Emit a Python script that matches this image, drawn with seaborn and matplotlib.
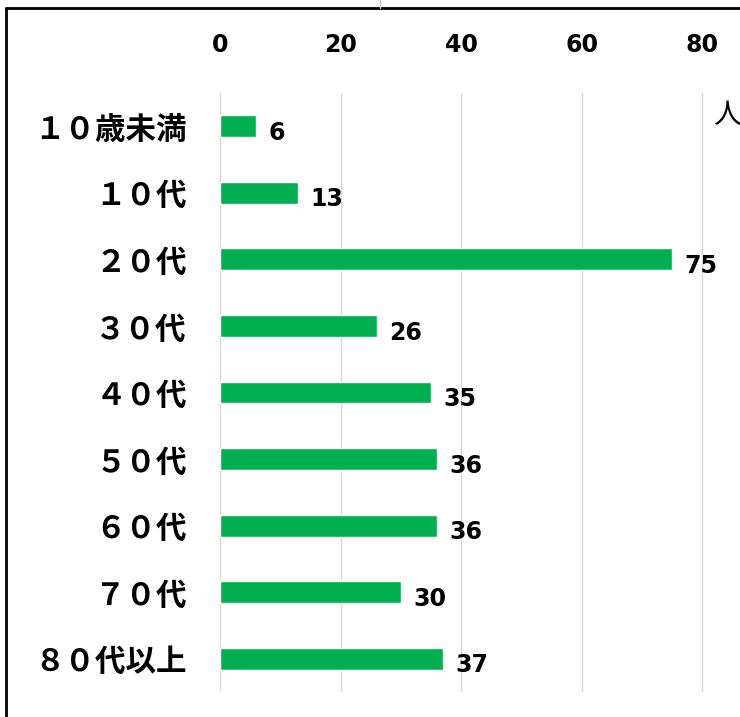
import matplotlib as mpl
mpl.use("Agg")
import matplotlib.pyplot as plt
import seaborn as sns
import pandas as pd
from matplotlib.lines import Line2D

sns.set_theme(style="whitegrid")
plt.rcParams['font.family'] = ['Noto Sans CJK JP', 'DejaVu Sans']
plt.rcParams['text.color'] = "black"
plt.rcParams['xtick.color'] = "black"
plt.rcParams['ytick.color'] = "black"

# data
age_groups = ["１０歳未満", "１０代", "２０代", "３０代", "４０代", "５０代", "６０代", "７０代", "８０代以上"]
counts = [6, 13, 75, 26, 35, 36, 36, 30, 37]
x_ticks = [0, 20, 40, 60, 80]

df = pd.DataFrame({"age": age_groups, "count": counts})

f = plt.figure(figsize=(7.4, 7.17), dpi=100)
# axes runs off the right edge, as in the cropped reference
ax = f.add_axes([220 / 740, 25 / 717, 603 / 740, 599 / 717])

sns.barplot(x="count", y="age", data=df, color="#00B050", width=0.33,
            saturation=1, ax=ax, orient="h")

ax.set_xlim(0, 100)
ax.set_xticks(x_ticks)
ax.xaxis.tick_top()
ax.tick_params(axis="x", length=0, pad=26, labelsize=17)
for lbl in ax.get_xticklabels():
    lbl.set_fontweight("bold")
    lbl.set_family("DejaVu Sans")
ax.tick_params(axis="y", length=0, pad=24, labelsize=22)
for lbl in ax.get_yticklabels():
    lbl.set_fontweight("bold")
ax.grid(axis="x", color="#d9d9d9", linewidth=1)
ax.grid(axis="y", visible=False)
ax.set(xlabel="", ylabel="")
sns.despine(ax=ax, left=True, bottom=True, top=True, right=True)

# value labels
for i, v in enumerate(counts):
    ax.text(v + 2, i + 0.1, str(v), va="center", ha="left",
            fontsize=17, fontweight="bold", family="DejaVu Sans")

# unit label
f.text(713 / 740, 1 - 115 / 717, "人", fontsize=20, va="center", ha="left")

# frame of the surrounding cell
f.add_artist(Line2D([6 / 740, 6 / 740], [0, 1 - 8 / 717], color="black", linewidth=2))
f.add_artist(Line2D([6 / 740, 1], [1 - 8 / 717, 1 - 8 / 717], color="black", linewidth=2))
f.add_artist(Line2D([380 / 740, 380 / 740], [1 - 8 / 717, 1], color="#cccccc", linewidth=1))

f.savefig("out.png", dpi=100)
